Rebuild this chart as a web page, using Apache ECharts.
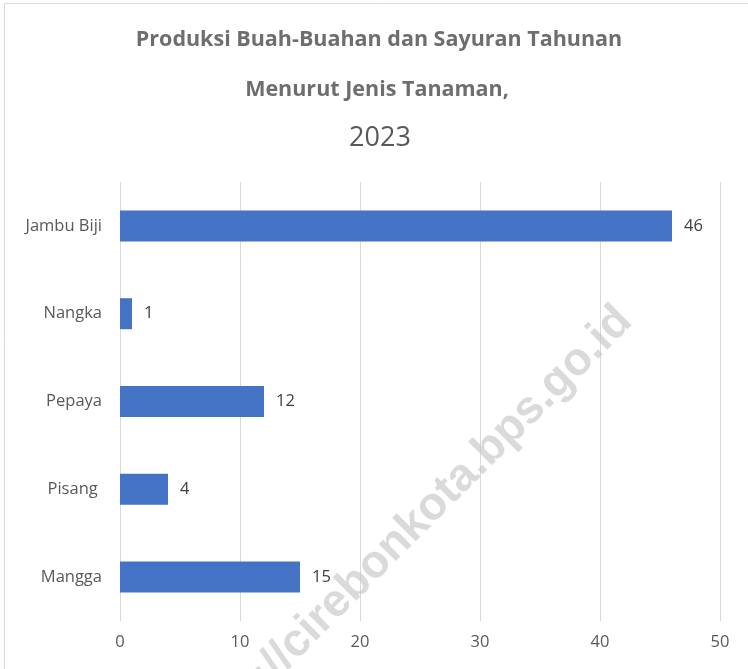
<!DOCTYPE html>
<html>
<head>
<meta charset="utf-8">
<script src="https://cdn.jsdelivr.net/npm/echarts@6/dist/echarts.min.js"></script>
<style>
  html,body{margin:0;padding:0;background:#fff;}
  #chart{width:748px;height:669px;}
</style>
</head>
<body>
<div id="chart"></div>
<script>
// data
var categories = ['Jambu Biji', 'Nangka', 'Pepaya', 'Pisang ', 'Mangga'];
var values = [46, 1, 12, 4, 15];
var axisMin = 0, axisMax = 50, axisStep = 10;

var chart = echarts.init(document.getElementById('chart'));
var font = 'Open Sans';

var option = {
  animation: false,
  backgroundColor: '#fff',
  graphic: [
    {
      type: 'rect',
      shape: { x: 4.5, y: 3.5, width: 760, height: 700 },
      style: { fill: 'none', stroke: '#d9d9d9', lineWidth: 1 },
      z: 0
    },
    {
      type: 'text', x: 379, y: 29,
      style: { text: 'Produksi Buah-Buahan dan Sayuran Tahunan', font: 'bold 21.5px ' + font, fill: '#6e6e6e', align: 'center' }
    },
    {
      type: 'text', x: 377, y: 79,
      style: { text: 'Menurut Jenis Tanaman,', font: 'bold 21.5px ' + font, fill: '#6e6e6e', align: 'center' }
    },
    {
      type: 'text', x: 380, y: 125,
      style: { text: '2023', font: '27px ' + font, fill: '#595959', align: 'center' }
    },
    {
      type: 'text', x: 625, y: 314, rotation: Math.PI / 4,
      style: { text: 'https://cirebonkota.bps.go.id', font: 'bold 46px Liberation Sans', fill: 'rgba(195,195,195,0.62)', align: 'right', verticalAlign: 'middle' },
      z: 100
    }
  ],
  grid: { left: 120, right: 28, top: 182, bottom: 48 },
  xAxis: {
    type: 'value',
    min: axisMin, max: axisMax, interval: axisStep,
    axisLine: { show: false },
    axisTick: { show: false },
    axisLabel: { color: '#595959', fontSize: 16.5, fontFamily: font, margin: 13 },
    splitLine: { lineStyle: { color: '#d9d9d9', width: 1 } }
  },
  yAxis: {
    type: 'category',
    inverse: true,
    data: categories,
    axisLine: { show: false },
    axisTick: { show: false },
    axisLabel: { color: '#595959', fontSize: 16.5, fontFamily: font, margin: 18 }
  },
  series: [{
    type: 'bar',
    data: values,
    barWidth: 31,
    itemStyle: { color: '#4472c4' },
    label: { show: true, position: 'right', distance: 12, color: '#404040', fontSize: 16.5, fontFamily: font }
  }]
};
chart.setOption(option);
</script>
</body>
</html>
